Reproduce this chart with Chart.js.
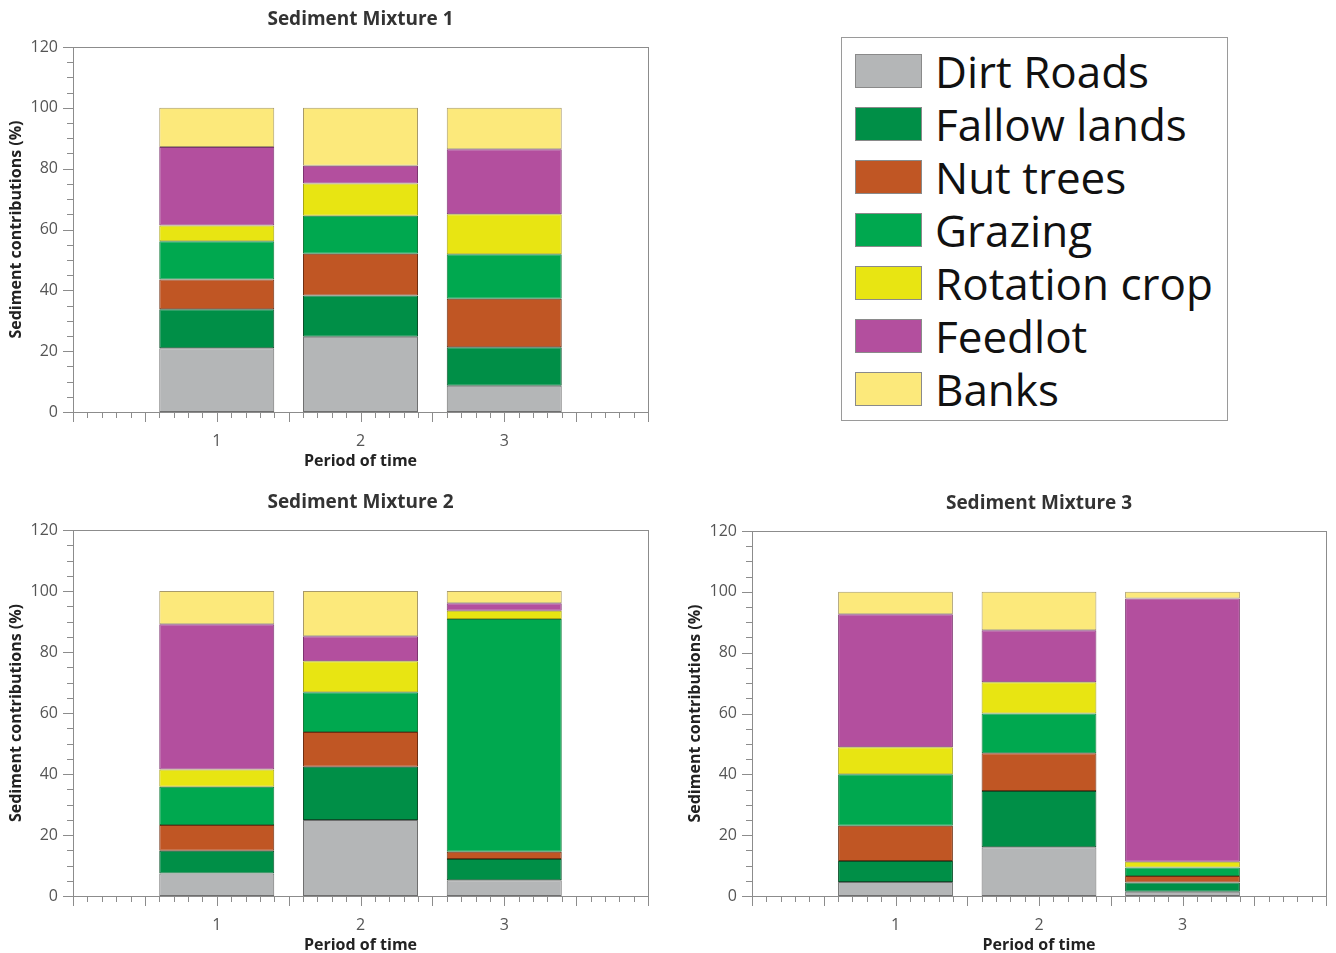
<!DOCTYPE html>
<html>
<head>
<meta charset="utf-8">
<script src="https://cdn.jsdelivr.net/npm/chart.js@4"></script>
<style>
  html, body { margin: 0; padding: 0; background: #fff; overflow: hidden; width: 1336px; height: 953px; }
  canvas { position: absolute; }
  #legend {
    position: absolute; left: 841px; top: 37px; width: 387px; height: 384px;
    box-sizing: border-box; border: 1px solid #9a9a9a; padding-top: 6px;
    font-family: "Open Sans", sans-serif; font-size: 44px; color: #111;
  }
  #legend .row { height: 53px; display: flex; align-items: center; }
  #legend .sw { width: 67px; height: 34px; margin-left: 13px; margin-right: 13px; box-sizing: border-box; border: 1px solid #8a8a8a; }
</style>
</head>
<body>
<canvas id="mix1" width="668" height="471" style="left:0;top:0"></canvas>
<canvas id="mix2" width="668" height="472" style="left:0;top:483px"></canvas>
<canvas id="mix3" width="656" height="471" style="left:679px;top:484px"></canvas>
<div id="legend"></div>

<script>
// data (% contribution per source, periods 1-3)
const periods = [1, 2, 3];
const sources = ['Dirt Roads', 'Fallow lands', 'Nut trees', 'Grazing', 'Rotation crop', 'Feedlot', 'Banks'];

const mixture1 = [
  [21.0, 24.7, 8.6],   // Dirt Roads
  [12.8, 13.6, 12.7],  // Fallow lands
  [9.8, 13.7, 15.9],   // Nut trees
  [12.5, 12.5, 14.7],  // Grazing
  [5.2, 10.6, 13.1],   // Rotation crop
  [25.8, 5.9, 21.4],   // Feedlot
  [12.9, 19.0, 13.6]   // Banks
];
const mixture2 = [
  [7.4, 24.9, 5.2],
  [7.4, 17.5, 6.9],
  [8.5, 11.4, 2.4],
  [12.5, 13.0, 76.3],
  [5.7, 10.2, 2.7],
  [47.6, 8.2, 2.5],
  [10.9, 14.8, 4.0]
];
const mixture3 = [
  [4.6, 16.0, 1.4],
  [6.9, 18.5, 3.0],
  [11.6, 12.4, 2.2],
  [16.9, 13.1, 2.8],
  [8.9, 10.3, 1.9],
  [43.7, 17.1, 86.5],
  [7.4, 12.6, 2.2]
];

const fills = ['#b4b6b7', '#008f47', '#c05624', '#00a84f', '#e8e512', '#b34f9e', '#fce97b'];
const edges = ['#6f6f6f', '#0a4f28', '#6e2f12', '#137a3a', '#a9a515', '#7d3470', '#a89a6a'];

Chart.defaults.font.family = '"Open Sans", sans-serif';

// frame + minor/major tick marks
const tickMarks = {
  id: 'tickMarks',
  afterDatasetsDraw(chart) {
    const { ctx, chartArea: a, scales: { x, y } } = chart;
    ctx.save();
    ctx.strokeStyle = '#8c8c8c';
    ctx.lineWidth = 1;
    ctx.strokeRect(Math.round(a.left) + 0.5, Math.round(a.top) + 0.5,
      Math.round(a.right - a.left), Math.round(a.bottom - a.top));
    ctx.beginPath();
    for (let v = y.min; v <= y.max; v += 5) {
      const py = Math.round(y.getPixelForValue(v)) + 0.5;
      const len = v % 20 === 0 ? 10 : 6;
      ctx.moveTo(a.left - len, py);
      ctx.lineTo(a.left, py);
    }
    for (let i = 0; i <= x.max * 10; i++) {
      const px = Math.round(x.getPixelForValue(i / 10)) + 0.5;
      const len = i % 5 === 0 ? 10 : 6;
      ctx.moveTo(px, a.bottom);
      ctx.lineTo(px, a.bottom + len);
    }
    ctx.stroke();
    ctx.restore();
  }
};

function makeChart(id, title, values, padRight) {
  new Chart(document.getElementById(id), {
    type: 'bar',
    data: {
      datasets: sources.map((s, i) => ({
        label: s,
        data: periods.map((p, j) => ({ x: p, y: values[i][j] })),
        backgroundColor: fills[i],
        borderColor: edges[i],
        borderWidth: 1,
        borderSkipped: false,
        barPercentage: 0.8,
        categoryPercentage: 1
      }))
    },
    options: {
      responsive: false,
      animation: false,
      layout: { padding: { left: 0, right: padRight, top: 0, bottom: 0 } },
      plugins: {
        legend: { display: false },
        tooltip: { enabled: false },
        title: {
          display: true, text: title, color: '#333', fullSize: false,
          font: { size: 19, weight: 'bold' },
          padding: { top: 8.6, bottom: 15.6 }
        }
      },
      scales: {
        x: {
          type: 'linear', min: 0, max: 4, offset: false, stacked: true,
          grid: { display: false, drawTicks: true, tickLength: 18, tickColor: 'rgba(0,0,0,0)', offset: false },
          border: { display: false },
          ticks: {
            stepSize: 1, padding: 2, color: '#555', font: { size: 16 },
            callback: v => periods.includes(v) ? String(v) : ''
          },
          title: {
            display: true, text: 'Period of time', color: '#222',
            font: { size: 16, weight: 'bold' }, padding: { top: 2, bottom: 0 }
          },
          afterFit(s) { s.height = 59; }
        },
        y: {
          min: 0, max: 120, stacked: true,
          grid: { display: false, drawTicks: true, tickLength: 13, tickColor: 'rgba(0,0,0,0)' },
          border: { display: false },
          ticks: { stepSize: 20, padding: 2, color: '#555', font: { size: 16 } },
          title: {
            display: true, text: 'Sediment contributions (%)', color: '#222',
            font: { size: 16, weight: 'bold' }, padding: { top: 7, bottom: 0 }
          },
          afterFit(s) { s.width = 73; }
        }
      }
    },
    plugins: [tickMarks]
  });
}

makeChart('mix1', 'Sediment Mixture 1', mixture1, 20);
makeChart('mix2', 'Sediment Mixture 2', mixture2, 20);
makeChart('mix3', 'Sediment Mixture 3', mixture3, 9);

// legend box
const legend = document.getElementById('legend');
sources.forEach((s, i) => {
  const row = document.createElement('div');
  row.className = 'row';
  const sw = document.createElement('div');
  sw.className = 'sw';
  sw.style.background = fills[i];
  const txt = document.createElement('span');
  txt.textContent = s;
  row.appendChild(sw);
  row.appendChild(txt);
  legend.appendChild(row);
});
</script>
</body>
</html>
